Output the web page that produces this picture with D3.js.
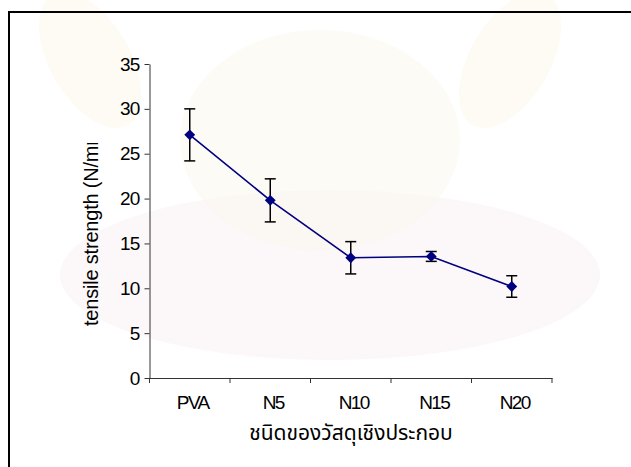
<!DOCTYPE html>
<html>
<head>
<meta charset="utf-8">
<script src="https://cdn.jsdelivr.net/npm/d3@7"></script>
<style>
  html, body { margin: 0; padding: 0; background: #fff; overflow: hidden; }
  svg { display: block; }
</style>
</head>
<body>
<svg id="chart" width="631" height="467"></svg>
<script>
// ---- data ----
const categories = ["PVA", "N5", "N10", "N15", "N20"];
const strength = [27.1, 19.8, 13.4, 13.55, 10.2];
const errorSize = [2.9, 2.4, 1.8, 0.55, 1.2];
const yTicks = [0, 5, 10, 15, 20, 25, 30, 35];
const yTitle = "tensile strength (N/mm2)";
const xTitle = "ชนิดของวัสดุเชิงประกอบ";

const svg = d3.select("#chart");

// faint background decoration (watermark-like)
const deco = svg.append("g").attr("class", "watermark");
deco.append("ellipse").attr("cx", 330).attr("cy", 275).attr("rx", 270).attr("ry", 85)
  .attr("fill", "#f9eef0").attr("opacity", 0.45);
deco.append("ellipse").attr("cx", 320).attr("cy", 140).attr("rx", 140).attr("ry", 110)
  .attr("fill", "#faf6ea").attr("opacity", 0.45);
deco.append("ellipse").attr("cx", 90).attr("cy", 60).attr("rx", 40).attr("ry", 75)
  .attr("transform", "rotate(-30,90,60)").attr("fill", "#fbf7e8").attr("opacity", 0.5);
deco.append("ellipse").attr("cx", 510).attr("cy", 60).attr("rx", 40).attr("ry", 75)
  .attr("transform", "rotate(30,510,60)").attr("fill", "#fbf7e8").attr("opacity", 0.5);

// frame
svg.append("rect").attr("x", 9).attr("y", 12).attr("width", 700).attr("height", 500)
  .attr("fill", "none").attr("stroke", "#000").attr("stroke-width", 2);

// scales
const x = d3.scaleBand().domain(categories).range([149.5, 552]);
const y = d3.scaleLinear().domain([0, 35]).range([378, 64]);

const font = "'Liberation Sans', Arial, sans-serif";

// y axis
const gy = svg.append("g").attr("transform", "translate(149.5,0)")
  .call(d3.axisLeft(y).tickValues(yTicks).tickSize(5).tickPadding(5).tickSizeOuter(0));
gy.select(".domain").attr("stroke", "#333");
gy.selectAll(".tick line").attr("stroke", "#333");
gy.selectAll(".tick text").attr("font-family", font).attr("font-size", 19)
  .attr("fill", "#000").attr("letter-spacing", -0.8);

// x axis
const gx = svg.append("g").attr("transform", "translate(0,378)")
  .call(d3.axisBottom(x).tickSize(0).tickPadding(18).tickSizeOuter(0));
gx.select(".domain").attr("stroke", "#333");
gx.selectAll(".tick text").attr("font-family", font).attr("font-size", 19)
  .attr("fill", "#000").attr("letter-spacing", -1.6).attr("dx", 3);
const bounds = categories.map(c => x(c)).concat([x.range()[1]]);
gx.selectAll("line.bt").data(bounds).enter().append("line").attr("class", "bt")
  .attr("x1", d => d).attr("x2", d => d).attr("y1", 0).attr("y2", 5).attr("stroke", "#333");

// y title (clipped at plot top like the original)
svg.append("clipPath").attr("id", "ytclip").append("rect")
  .attr("x", 0).attr("y", 143).attr("width", 140).attr("height", 300);
svg.append("g").attr("clip-path", "url(#ytclip)")
  .append("text")
  .attr("transform", "translate(98,326) rotate(-90)")
  .attr("font-family", font).attr("font-size", 20).attr("fill", "#000")
  .attr("letter-spacing", -0.2)
  .text(yTitle);

// x title
svg.append("text").attr("x", 351).attr("y", 440).attr("text-anchor", "middle")
  .attr("font-family", "'Noto Sans Thai', 'Noto Sans', 'DejaVu Sans', sans-serif")
  .attr("font-size", 21).attr("fill", "#000").text(xTitle);

// data
const pts = categories.map((c, i) => ({ c, v: strength[i], e: errorSize[i] }));
const cx = d => x(d.c) + x.bandwidth() / 2;

const line = d3.line().x(cx).y(d => y(d.v));
svg.append("path").datum(pts).attr("d", line).attr("fill", "none")
  .attr("stroke", "#000080").attr("stroke-width", 1.6);

// error bars
const eb = svg.append("g").attr("stroke", "#000").attr("stroke-width", 1.5);
pts.forEach(d => {
  eb.append("line").attr("x1", cx(d)).attr("x2", cx(d)).attr("y1", y(d.v + d.e)).attr("y2", y(d.v - d.e));
  eb.append("line").attr("x1", cx(d) - 5.5).attr("x2", cx(d) + 5.5).attr("y1", y(d.v + d.e)).attr("y2", y(d.v + d.e));
  eb.append("line").attr("x1", cx(d) - 5.5).attr("x2", cx(d) + 5.5).attr("y1", y(d.v - d.e)).attr("y2", y(d.v - d.e));
});

// markers
svg.append("g").selectAll("path").data(pts).enter().append("path")
  .attr("d", d3.symbol().type(d3.symbolDiamond2).size(75))
  .attr("transform", d => `translate(${cx(d)},${y(d.v)})`)
  .attr("fill", "#000080");
</script>
</body>
</html>
